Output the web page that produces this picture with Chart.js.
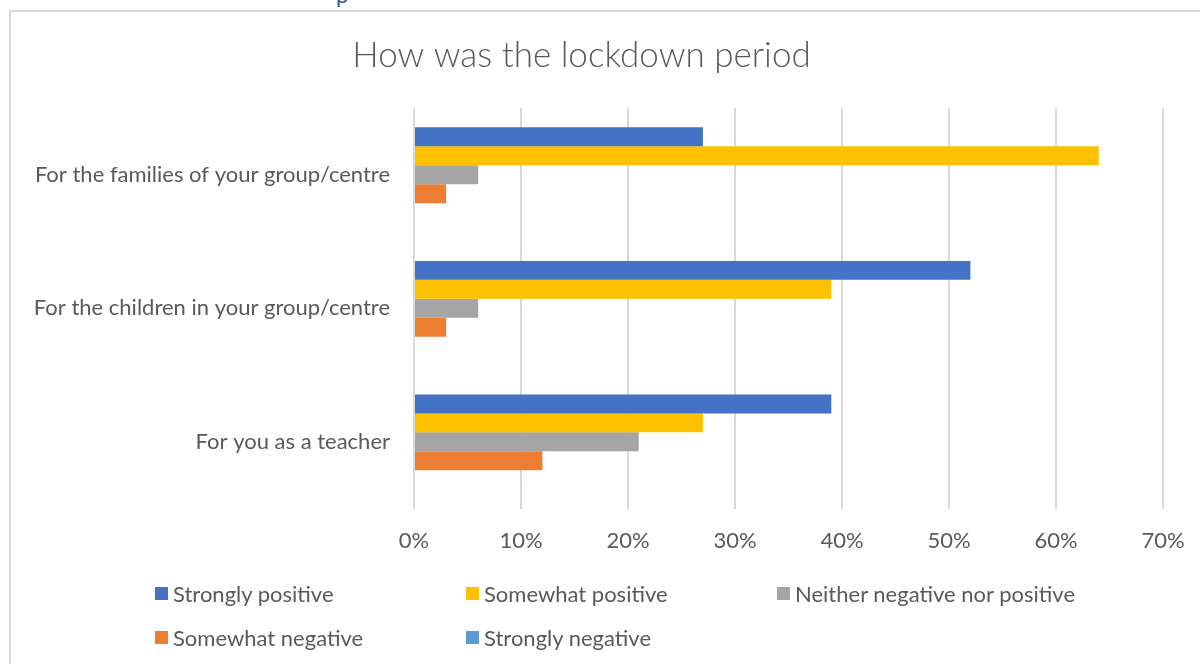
<!DOCTYPE html>
<html>
<head>
<meta charset="utf-8">
<script src="https://cdn.jsdelivr.net/npm/chart.js@4"></script>
<style>
    html, body { margin: 0; padding: 0; background: #fff; overflow: hidden; }
    #page { position: relative; width: 1200px; height: 664px; overflow: hidden; }
    #frame { position: absolute; left: 9px; top: 10px; width: 1300px; height: 800px;
             border-top: 2px solid #d9d9d9; border-left: 2px solid #d9d9d9; }
    #above { position: absolute; left: 336px; top: -19px; font: 22px Lato, sans-serif; color: #2f5496; }
    #wrap { position: absolute; left: 0; top: 0; width: 1200px; height: 664px; }
    #legend { position: absolute; left: 0; top: 0; width: 1200px; height: 664px; pointer-events: none; }
    .item { position: absolute; display: flex; align-items: center; height: 30px;
            font: 22px Lato, sans-serif; color: #595959; white-space: nowrap; }
    .box { width: 13px; height: 13px; margin-right: 5px; }
</style>
</head>
<body>
<div id="page">
    <div id="frame"></div>
    <div id="above">p</div>
    <div id="wrap"><canvas id="myChart"></canvas></div>
    <div id="legend"></div>
</div>
<script>
const categories = ['For the families of your group/centre', 'For the children in your group/centre', 'For you as a teacher'];
const seriesNames = ['Strongly positive', 'Somewhat positive', 'Neither negative nor positive', 'Somewhat negative', 'Strongly negative'];
const stronglyPositive = [27, 52, 39];
const somewhatPositive = [64, 39, 27];
const neitherNegPos = [6, 6, 21];
const somewhatNegative = [3, 3, 12];
const stronglyNegative = [0, 0, 0];
const colors = ['#4472C4', '#FFC000', '#A5A5A5', '#ED7D31', '#5B9BD5'];

const values = [stronglyPositive, somewhatPositive, neitherNegPos, somewhatNegative, stronglyNegative];
const textColor = '#595959';

const ctx = document.getElementById('myChart');

let chart = new Chart(ctx, {
    type: 'bar',
    data: {
        labels: categories,
        datasets: seriesNames.map((name, i) => ({
            label: name,
            data: values[i],
            backgroundColor: colors[i],
            borderWidth: 0,
            categoryPercentage: 0.71,
            barPercentage: 1
        }))
    },
    options: {
        indexAxis: 'y',
        responsive: true,
        maintainAspectRatio: false,
        animation: false,
        layout: {
            padding: { left: 0, right: 37, top: 0, bottom: 91 }
        },
        plugins: {
            legend: { display: false },
            tooltip: { enabled: false },
            title: {
                display: true,
                text: 'How was the lockdown period',
                color: textColor,
                font: { family: 'Lato', size: 35, weight: 300 },
                padding: { top: 35, bottom: 31 }
            }
        },
        scales: {
            x: {
                min: 0,
                max: 70,
                // the last label fits in the layout padding, no extra margin needed
                afterFit: scale => { scale.paddingRight = 0; },
                ticks: {
                    stepSize: 10,
                    padding: 19,
                    color: textColor,
                    font: { family: 'Lato', size: 22 },
                    callback: v => v + '%'
                },
                grid: { color: '#d9d9d9', lineWidth: 2, drawTicks: false },
                border: { display: false }
            },
            y: {
                afterFit: scale => { scale.width = 414; },
                ticks: {
                    padding: 24,
                    color: textColor,
                    font: { family: 'Lato', size: 22 }
                },
                grid: { display: false, drawTicks: false },
                border: { display: false }
            }
        }
    }
});

// legend laid out in a fixed grid, three per row
const legend = document.getElementById('legend');
chart.data.datasets.forEach((ds, i) => {
    let item = document.createElement('div');
    item.className = 'item';
    item.style.left = (155 + (i % 3) * 311) + 'px';
    item.style.top = (578 + Math.floor(i / 3) * 44) + 'px';
    let box = document.createElement('span');
    box.className = 'box';
    box.style.background = ds.backgroundColor;
    item.appendChild(box);
    item.appendChild(document.createTextNode(ds.label));
    legend.appendChild(item);
});
</script>
</body>
</html>
